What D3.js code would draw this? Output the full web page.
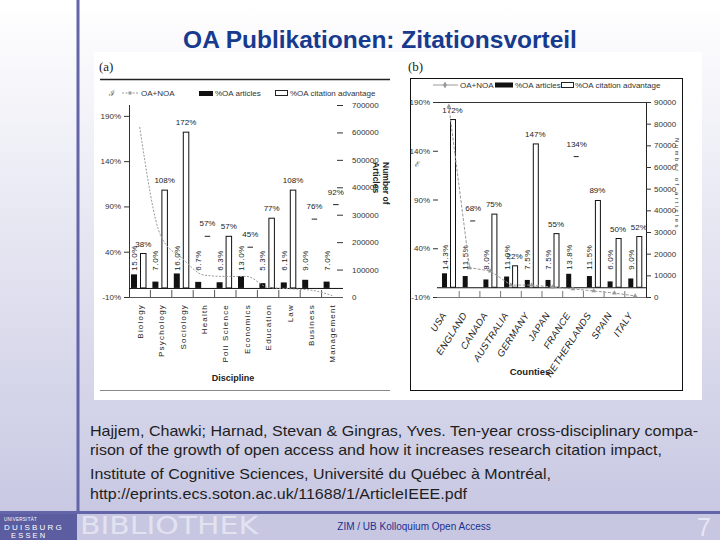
<!DOCTYPE html>
<html><head><meta charset="utf-8">
<script src="https://cdn.jsdelivr.net/npm/d3@7"></script>
<style>body{margin:0;background:#fff;} svg{display:block;}</style>
</head><body>
<svg id="s" width="720" height="540"></svg>
<script>
// ---------- data: chart (a) ----------
const disciplines = ["Biology","Psychology","Sociology","Health","Poli Science","Economics","Education","Law","Business","Management"];
const oaShareA = [15.0, 7.0, 16.0, 6.7, 6.3, 13.0, 5.3, 6.1, 9.0, 7.0];
const citeAdvA = [38, 108, 172, 57, 57, 45, 77, 108, 76, 92];
const totalA = [620000, 220000, 140000, 80000, 75000, 75000, 35000, 30000, 25000, 5000];
const dashOnlyA = ["Health", "Economics", "Business", "Management"];
const pctTicks = [-10, 40, 90, 140, 190];
const countTicksA = [0, 100000, 200000, 300000, 400000, 500000, 600000, 700000];
// ---------- data: chart (b) ----------
const countries = ["USA","ENGLAND","CANADA","AUSTRALIA","GERMANY","JAPAN","FRANCE","NETHERLANDS","SPAIN","ITALY"];
const oaShareB = [14.3, 11.5, 8.0, 11.0, 7.5, 7.5, 13.8, 11.5, 6.0, 9.0];
const citeAdvB = [172, 68, 75, 22, 147, 55, 134, 89, 50, 52];
const totalB = [88000, 13500, 12000, 5500, 5500, 4600, 3700, 2800, 1800, 500];
const dashOnlyB = ["ENGLAND", "FRANCE"];
const countTicksB = [0, 10000, 20000, 30000, 40000, 50000, 60000, 70000, 80000, 90000];
// ---------- slide texts ----------
const title = "OA Publikationen: Zitationsvorteil";
const citation = [
  "Hajjem, Chawki; Harnad, Stevan & Gingras, Yves. Ten-year cross-disciplinary compa-",
  "rison of the growth of open access and how it increases research citation impact,",
  "Institute of Cognitive Sciences, Université du Québec à Montréal,",
  "http://eprints.ecs.soton.ac.uk/11688/1/ArticleIEEE.pdf"
];
const footerText = "ZIM / UB Kolloquium Open Access";
const pageNo = "7";

const svg = d3.select("#s");
const F = "'Liberation Sans', Arial, sans-serif";
const pct = v => v + "%";
const pct1 = v => d3.format(".1f")(v) + "%";

// background
const defs = svg.append("defs");
const g0 = defs.append("linearGradient").attr("id","bg").attr("x1",0).attr("y1",0).attr("x2",0).attr("y2",1);
g0.append("stop").attr("offset","0%").attr("stop-color","#ffffff");
g0.append("stop").attr("offset","100%").attr("stop-color","#c8c8e3");
svg.append("rect").attr("width",720).attr("height",512).attr("fill","url(#bg)");

// frame lines
svg.append("rect").attr("x",76.5).attr("y",0).attr("width",3).attr("height",512).attr("fill","#6464a8");
svg.append("rect").attr("x",0).attr("y",514).attr("width",720).attr("height",26).attr("fill","#c7c7e2");
svg.append("rect").attr("x",0).attr("y",514).attr("width",77).attr("height",26).attr("fill","#5c5ca0");
svg.append("rect").attr("x",0).attr("y",511).attr("width",720).attr("height",3).attr("fill","#6464a8");

// title
svg.append("text").attr("x",380).attr("y",48).attr("text-anchor","middle")
  .attr("font-family",F).attr("font-weight","bold").attr("font-size",24.5)
  .attr("fill","#173a8e").text(title);

// image area
svg.append("rect").attr("x",94).attr("y",52).attr("width",608).attr("height",348).attr("fill","#ffffff");

// ============ chart (a) ============
const A = svg.append("g").attr("font-family",F);
A.append("text").attr("x",99).attr("y",71).attr("font-family","'Liberation Serif', serif").attr("font-size",13).attr("fill","#222").text("(a)");
A.append("line").attr("x1",100).attr("x2",390).attr("y1",79.5).attr("y2",79.5).attr("stroke","#222").attr("stroke-width",1.5);
A.append("line").attr("x1",100).attr("x2",390).attr("y1",390.5).attr("y2",390.5).attr("stroke","#888").attr("stroke-width",1);

const xA = d3.scaleBand().domain(disciplines).range([129, 343]);
const yA = d3.scaleLinear().domain([-10, 202]).range([297, 105]);
const yAR = d3.scaleLinear().domain([0, 700000]).range([297, 105]);

// legend (a)
A.append("text").attr("x",109).attr("y",96).attr("font-size",8).attr("fill","#555").text("ℐ");
A.append("line").attr("x1",122).attr("x2",139).attr("y1",93).attr("y2",93).attr("stroke","#999").attr("stroke-dasharray","2,1.5");
A.append("rect").attr("x",128.5).attr("y",91.5).attr("width",3).attr("height",3).attr("fill","#999");
A.append("text").attr("x",141).attr("y",96).attr("font-size",8).attr("fill","#333").text("OA+NOA");
A.append("rect").attr("x",199).attr("y",91).attr("width",14).attr("height",5).attr("fill","#111");
A.append("text").attr("x",215).attr("y",96).attr("font-size",8).attr("fill","#333").text("%OA articles");
A.append("rect").attr("x",275.5).attr("y",90.5).attr("width",12).attr("height",5).attr("fill","#fff").attr("stroke","#222");
A.append("text").attr("x",290).attr("y",96).attr("font-size",8).attr("fill","#333").text("%OA citation advantage");

// left axis (a)
const axL = A.append("g").attr("transform","translate(129,0)")
  .call(d3.axisLeft(yA).tickValues(pctTicks).tickFormat(pct).tickSize(5).tickSizeOuter(0));
axL.select(".domain").remove();
axL.selectAll("text").attr("font-size",8).attr("font-family",F).attr("fill","#333");
axL.selectAll("line").attr("stroke","#333");
A.append("line").attr("x1",129.5).attr("x2",129.5).attr("y1",105).attr("y2",297).attr("stroke","#333");

// right axis (a)
const axR = A.append("g").attr("transform","translate(343,0)")
  .call(d3.axisRight(yAR).tickValues(countTicksA).tickFormat(d3.format("d")).tickSize(-6).tickPadding(9).tickSizeOuter(0));
axR.select(".domain").remove();
axR.selectAll("text").attr("font-size",8).attr("font-family",F).attr("fill","#333");
axR.selectAll("line").attr("stroke","#333");

// bottom axis (a)
A.append("line").attr("x1",129).attr("x2",343).attr("y1",297.5).attr("y2",297.5).attr("stroke","#555");
A.selectAll("line.xt").data(disciplines.slice(1)).join("line").attr("class","xt")
  .attr("x1",d=>xA(d)).attr("x2",d=>xA(d)).attr("y1",297).attr("y2",290).attr("stroke","#555");
A.append("line").attr("x1",129).attr("x2",343).attr("y1",yA(0)+0.5).attr("y2",yA(0)+0.5).attr("stroke","#111");

// category labels (a)
A.selectAll("text.cat").data(disciplines).join("text").attr("class","cat")
  .attr("transform",d=>`translate(${xA(d)+xA.bandwidth()/2+3},304) rotate(-90)`)
  .attr("text-anchor","end").attr("font-size",8).attr("letter-spacing",1.2).attr("fill","#222").text(d=>d);
A.append("text").attr("x",233).attr("y",381).attr("text-anchor","middle").attr("font-size",9).attr("font-weight","bold").attr("fill","#222").text("Discipline");

// right axis title (a)
A.append("text").attr("transform","translate(383,162) rotate(90)").attr("font-size",8.5).attr("font-weight","bold").attr("fill","#222")
  .selectAll("tspan").data(["Number of","Articles"]).join("tspan").attr("x",0).attr("dy",(d,i)=>i?10:0).text(d=>d);

// black bars (a)
A.selectAll("rect.oa").data(disciplines).join("rect").attr("class","oa")
  .attr("x",d=>xA(d)+2).attr("width",6)
  .attr("y",(d,i)=>yA(oaShareA[i])).attr("height",(d,i)=>yA(0)-yA(oaShareA[i])).attr("fill","#111");
A.selectAll("text.oal").data(disciplines).join("text").attr("class","oal")
  .attr("transform",d=>`translate(${xA(d)+8},${yA(19)}) rotate(-90)`)
  .attr("font-size",8).attr("letter-spacing",0.6).attr("fill","#222").text((d,i)=>pct1(oaShareA[i]));

// white bars (a)
A.selectAll("rect.adv").data(disciplines.filter(d=>!dashOnlyA.includes(d))).join("rect").attr("class","adv")
  .attr("x",d=>xA(d)+11.5).attr("width",5.5)
  .attr("y",d=>yA(citeAdvA[disciplines.indexOf(d)])).attr("height",d=>yA(0)-yA(citeAdvA[disciplines.indexOf(d)]))
  .attr("fill","#fff").attr("stroke","#111").attr("stroke-width",1);
A.selectAll("line.advd").data(dashOnlyA).join("line").attr("class","advd")
  .attr("x1",d=>xA(d)+11.5).attr("x2",d=>xA(d)+17)
  .attr("y1",d=>yA(citeAdvA[disciplines.indexOf(d)])).attr("y2",d=>yA(citeAdvA[disciplines.indexOf(d)])).attr("stroke","#222");
A.selectAll("text.advl").data(disciplines).join("text").attr("class","advl")
  .attr("x",d=>xA(d)+14.25).attr("y",(d,i)=>yA(citeAdvA[i])-(dashOnlyA.includes(d)?10:7))
  .attr("text-anchor","middle").attr("font-size",8).attr("fill","#222").text((d,i)=>pct(citeAdvA[i]));

// line (a)
const lineA = d3.line().x((d,i)=>xA(disciplines[i])+xA.bandwidth()/2).y(d=>yAR(d)).curve(d3.curveMonotoneX);
A.append("path").attr("d",lineA(totalA)).attr("fill","none").attr("stroke","#999").attr("stroke-width",1).attr("stroke-dasharray","2,1.5");

// ============ chart (b) ============
const B = svg.append("g").attr("font-family",F);
B.append("text").attr("x",408).attr("y",71).attr("font-family","'Liberation Serif', serif").attr("font-size",13).attr("fill","#222").text("(b)");
B.append("rect").attr("x",410.5).attr("y",78.5).attr("width",272).attr("height",312).attr("fill","none").attr("stroke","#111");

const xB = d3.scaleBand().domain(countries).range([438.5, 645.5]);
const yB = d3.scaleLinear().domain([-10, 190]).range([297, 102]);
const yBR = d3.scaleLinear().domain([0, 90000]).range([297, 102]);

// legend (b)
B.append("line").attr("x1",433).attr("x2",458).attr("y1",85).attr("y2",85).attr("stroke","#999");
B.append("path").attr("d",d3.symbol(d3.symbolDiamond,14)()).attr("transform","translate(445,85)").attr("fill","#999");
B.append("text").attr("x",460).attr("y",88).attr("font-size",8).attr("fill","#333").text("OA+NOA");
B.append("rect").attr("x",495).attr("y",82.5).attr("width",18).attr("height",5).attr("fill","#111");
B.append("text").attr("x",515).attr("y",88).attr("font-size",8).attr("fill","#333").text("%OA articles");
B.append("rect").attr("x",561.5).attr("y",82.5).attr("width",12).attr("height",5).attr("fill","#fff").attr("stroke","#222");
B.append("text").attr("x",575).attr("y",88).attr("font-size",8).attr("fill","#333").text("%OA citation advantage");
B.append("text").attr("x",415).attr("y",167).attr("font-size",8).attr("fill","#555").text("ℰ");

// frame lines of plot (b)
B.append("line").attr("x1",437).attr("x2",646).attr("y1",102.5).attr("y2",102.5).attr("stroke","#333");

// left axis (b)
const bL = B.append("g").attr("transform","translate(438,0)")
  .call(d3.axisLeft(yB).tickValues(pctTicks).tickFormat(pct).tickSize(5).tickSizeOuter(0));
bL.select(".domain").remove();
bL.selectAll("text").attr("font-size",8).attr("font-family",F).attr("fill","#333");
bL.selectAll("line").attr("stroke","#333");

// right axis (b)
const bR = B.append("g").attr("transform","translate(646,0)")
  .call(d3.axisRight(yBR).tickValues(countTicksB).tickFormat(d3.format("d")).tickSize(5).tickSizeOuter(0));
bR.select(".domain").attr("stroke","#222");
bR.selectAll("text").attr("font-size",8).attr("font-family",F).attr("fill","#333");
bR.selectAll("line").attr("stroke","#333");
B.append("text").attr("transform","translate(675,138) rotate(90)").attr("font-size",6).attr("letter-spacing",2.4).attr("fill","#333").text("Number of articles");

// bottom axis (b)
B.append("line").attr("x1",437).attr("x2",646).attr("y1",297.5).attr("y2",297.5).attr("stroke","#777");
B.selectAll("line.xt").data(countries.slice(1)).join("line").attr("class","xt")
  .attr("x1",d=>xB(d)).attr("x2",d=>xB(d)).attr("y1",297).attr("y2",291).attr("stroke","#777");
B.append("line").attr("x1",437).attr("x2",646).attr("y1",yB(0)+0.5).attr("y2",yB(0)+0.5).attr("stroke","#111");

// category labels (b)
B.selectAll("text.cat").data(countries).join("text").attr("class","cat")
  .attr("transform",d=>`translate(${xB(d)+xB.bandwidth()/2-2},315) rotate(-57)`)
  .attr("text-anchor","end").attr("font-size",9.5).attr("font-style","italic").attr("letter-spacing",0.4).attr("fill","#222").text(d=>d);
B.append("text").attr("x",530).attr("y",375).attr("text-anchor","middle").attr("font-size",9.5).attr("font-weight","bold").attr("fill","#222").text("Counties");

// black bars (b)
B.selectAll("rect.oa").data(countries).join("rect").attr("class","oa")
  .attr("x",d=>xB(d)+3.5).attr("width",5)
  .attr("y",(d,i)=>yB(oaShareB[i])).attr("height",(d,i)=>yB(0)-yB(oaShareB[i])).attr("fill","#111");
B.selectAll("text.oal").data(countries).join("text").attr("class","oal")
  .attr("transform",d=>`translate(${xB(d)+9},${yB(18)}) rotate(-90)`)
  .attr("font-size",8).attr("letter-spacing",0.6).attr("fill","#222").text((d,i)=>pct1(oaShareB[i]));

// white bars (b)
B.selectAll("rect.adv").data(countries.filter(d=>!dashOnlyB.includes(d))).join("rect").attr("class","adv")
  .attr("x",d=>xB(d)+12).attr("width",5)
  .attr("y",d=>yB(citeAdvB[countries.indexOf(d)])).attr("height",d=>yB(0)-yB(citeAdvB[countries.indexOf(d)]))
  .attr("fill","#fff").attr("stroke","#111").attr("stroke-width",1);
B.selectAll("line.advd").data(dashOnlyB).join("line").attr("class","advd")
  .attr("x1",d=>xB(d)+11).attr("x2",d=>xB(d)+16)
  .attr("y1",d=>yB(citeAdvB[countries.indexOf(d)])).attr("y2",d=>yB(citeAdvB[countries.indexOf(d)])).attr("stroke","#222");
B.selectAll("text.advl").data(countries).join("text").attr("class","advl")
  .attr("x",d=>xB(d)+14).attr("y",(d,i)=>yB(citeAdvB[i])-(dashOnlyB.includes(d)?10:7))
  .attr("text-anchor","middle").attr("font-size",8).attr("fill","#222").text((d,i)=>pct(citeAdvB[i]));

// line (b)
const lineB = d3.line().x((d,i)=>xB(countries[i])+xB.bandwidth()/2).y(d=>yBR(d));
B.append("path").attr("d",lineB(totalB)).attr("fill","none").attr("stroke","#999").attr("stroke-width",1).attr("stroke-dasharray","3,1.5");
B.selectAll("path.mk").data(totalB).join("path").attr("class","mk")
  .attr("d",d3.symbol(d3.symbolTriangle,10)())
  .attr("transform",(d,i)=>`translate(${xB(countries[i])+xB.bandwidth()/2},${yBR(d)})`).attr("fill","#999");

// ============ citation text ============
const C = svg.append("g").attr("font-family",F).attr("font-size",14.5).attr("fill","#1e1e1e");
const cy = [436, 455, 479, 499];
const cw = [608, 572, 461, 377];
C.selectAll("text").data(citation).join("text").attr("x",90).attr("y",(d,i)=>cy[i])
  .attr("textLength",(d,i)=>cw[i]).attr("lengthAdjust","spacingAndGlyphs").text(d=>d);

// ============ footer ============
svg.append("text").attr("x",80).attr("y",534).attr("font-family","'DejaVu Sans', sans-serif").attr("font-size",25)
  .attr("textLength",178).attr("lengthAdjust","spacingAndGlyphs").attr("fill","#e2e2f1").text("BIBLIOTHEK");
svg.append("text").attr("x",414).attr("y",530).attr("text-anchor","middle").attr("font-family",F).attr("font-size",10)
  .attr("fill","#1c2f8e").text(footerText);
svg.append("text").attr("x",711).attr("y",536).attr("text-anchor","end").attr("font-family",F).attr("font-size",25)
  .attr("fill","#e6e6f4").text(pageNo);
const U = svg.append("g").attr("font-family",F).attr("fill","#fff");
U.append("text").attr("x",4).attr("y",521).attr("font-size",4.5).attr("letter-spacing",0.3).text("UNIVERSITÄT");
U.append("text").attr("x",4).attr("y",530).attr("font-size",8).attr("letter-spacing",2.2).text("DUISBURG");
U.append("text").attr("x",11).attr("y",538).attr("font-size",7.5).attr("letter-spacing",2.2).text("ESSEN");
</script>
</body></html>
